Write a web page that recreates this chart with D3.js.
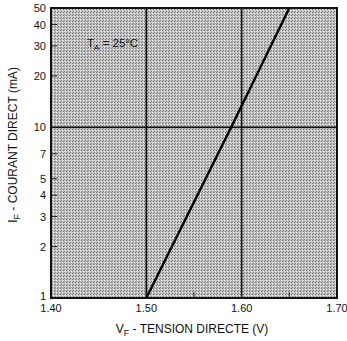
<!DOCTYPE html>
<html>
<head>
<meta charset="utf-8">
<script src="https://cdn.jsdelivr.net/npm/d3@7"></script>
<style>
  body { margin: 0; background: #fff; }
  text { font-family: "Liberation Sans", Arial, sans-serif; fill: #111; }
</style>
</head>
<body>
<div id="chart"></div>
<script>
// forward voltage (V) vs forward current (mA)
var vf = [1.50, 1.589, 1.65];
var ifwd = [1, 10, 50];

var xTicks = [1.40, 1.50, 1.60, 1.70];
var xMinor = [1.55, 1.65];
var yTicks = [1, 2, 3, 4, 5, 7, 10, 20, 30, 40, 50];
var yMinor = [2, 3, 4, 5, 7, 20, 30, 40];
var xGrid = [1.50, 1.60];
var yGrid = [10];

var width = 347, height = 341;
var margin = { left: 51, right: 10, top: 8, bottom: 43 };

var svg = d3.select("#chart").append("svg")
  .attr("width", width)
  .attr("height", height);

var x = d3.scaleLinear().domain([1.40, 1.70]).range([margin.left, width - margin.right]);
var y = d3.scaleLog().domain([1, 50]).range([height - margin.bottom, margin.top]);

// halftone-ish background
var defs = svg.append("defs");
var pat = defs.append("pattern")
  .attr("id", "dots")
  .attr("width", 3).attr("height", 3)
  .attr("patternUnits", "userSpaceOnUse");
pat.append("rect").attr("width", 3).attr("height", 3).attr("fill", "#c4c4c4");
pat.append("rect").attr("x", 0).attr("y", 0).attr("width", 1).attr("height", 1).attr("fill", "#6e6e6e");
pat.append("rect").attr("x", 2).attr("y", 1).attr("width", 1).attr("height", 1).attr("fill", "#eeeeee");
pat.append("rect").attr("x", 1).attr("y", 2).attr("width", 1).attr("height", 1).attr("fill", "#808080");

svg.append("rect")
  .attr("x", x(1.40)).attr("y", y(50))
  .attr("width", x(1.70) - x(1.40))
  .attr("height", y(1) - y(50))
  .attr("fill", "url(#dots)");

// grid lines
svg.selectAll(".gx").data(xGrid).enter().append("line")
  .attr("x1", function(d) { return x(d); }).attr("x2", function(d) { return x(d); })
  .attr("y1", y(50)).attr("y2", y(1))
  .attr("stroke", "#111").attr("stroke-width", 1.6);
svg.selectAll(".gy").data(yGrid).enter().append("line")
  .attr("x1", x(1.40)).attr("x2", x(1.70))
  .attr("y1", function(d) { return y(d); }).attr("y2", function(d) { return y(d); })
  .attr("stroke", "#111").attr("stroke-width", 1.6);

// minor ticks
svg.selectAll(".my").data(yMinor).enter().append("line")
  .attr("x1", x(1.40)).attr("x2", x(1.40) + 6)
  .attr("y1", function(d) { return y(d); }).attr("y2", function(d) { return y(d); })
  .attr("stroke", "#222").attr("stroke-width", 1);
svg.selectAll(".mx").data(xMinor).enter().append("line")
  .attr("x1", function(d) { return x(d); }).attr("x2", function(d) { return x(d); })
  .attr("y1", y(1)).attr("y2", y(1) - 6)
  .attr("stroke", "#222").attr("stroke-width", 1);

// frame
svg.append("rect")
  .attr("x", x(1.40)).attr("y", y(50))
  .attr("width", x(1.70) - x(1.40))
  .attr("height", y(1) - y(50))
  .attr("fill", "none").attr("stroke", "#111").attr("stroke-width", 2);

// the curve
var line = d3.line()
  .x(function(d) { return x(d[0]); })
  .y(function(d) { return y(d[1]); });
svg.append("path")
  .datum(d3.zip(vf, ifwd))
  .attr("d", line)
  .attr("fill", "none").attr("stroke", "#000").attr("stroke-width", 2.4);

// y labels
svg.selectAll(".yl").data(yTicks).enter().append("text")
  .attr("x", x(1.40) - 5)
  .attr("y", function(d) { return y(d) + (d == 1 ? 2 : 4); })
  .attr("text-anchor", "end")
  .style("font-size", "11px")
  .text(function(d) { return d; });

// x labels
svg.selectAll(".xl").data(xTicks).enter().append("text")
  .attr("x", function(d) { return x(d); })
  .attr("y", y(1) + 14)
  .attr("text-anchor", "middle")
  .style("font-size", "11px")
  .text(function(d) { return d.toFixed(2); });

// axis titles
var xt = svg.append("text")
  .attr("x", 192).attr("y", 333)
  .attr("text-anchor", "middle")
  .style("font-size", "12px");
xt.append("tspan").text("V");
xt.append("tspan").attr("dy", 3).style("font-size", "9px").text("F");
xt.append("tspan").attr("dy", -3).text(" - TENSION DIRECTE (V)");

var yt = svg.append("text")
  .attr("transform", "translate(17,145) rotate(-90)")
  .attr("text-anchor", "middle")
  .style("font-size", "12px");
yt.append("tspan").text("I");
yt.append("tspan").attr("dy", 3).style("font-size", "9px").text("F");
yt.append("tspan").attr("dy", -3).text(" - COURANT DIRECT (mA)");

// annotation
var ta = svg.append("text")
  .attr("x", 87).attr("y", 47)
  .style("font-size", "11.5px");
ta.append("tspan").text("T");
ta.append("tspan").attr("dy", 3).style("font-size", "8px").text("A");
ta.append("tspan").attr("dy", -3).text(" = 25°C");
</script>
</body>
</html>
